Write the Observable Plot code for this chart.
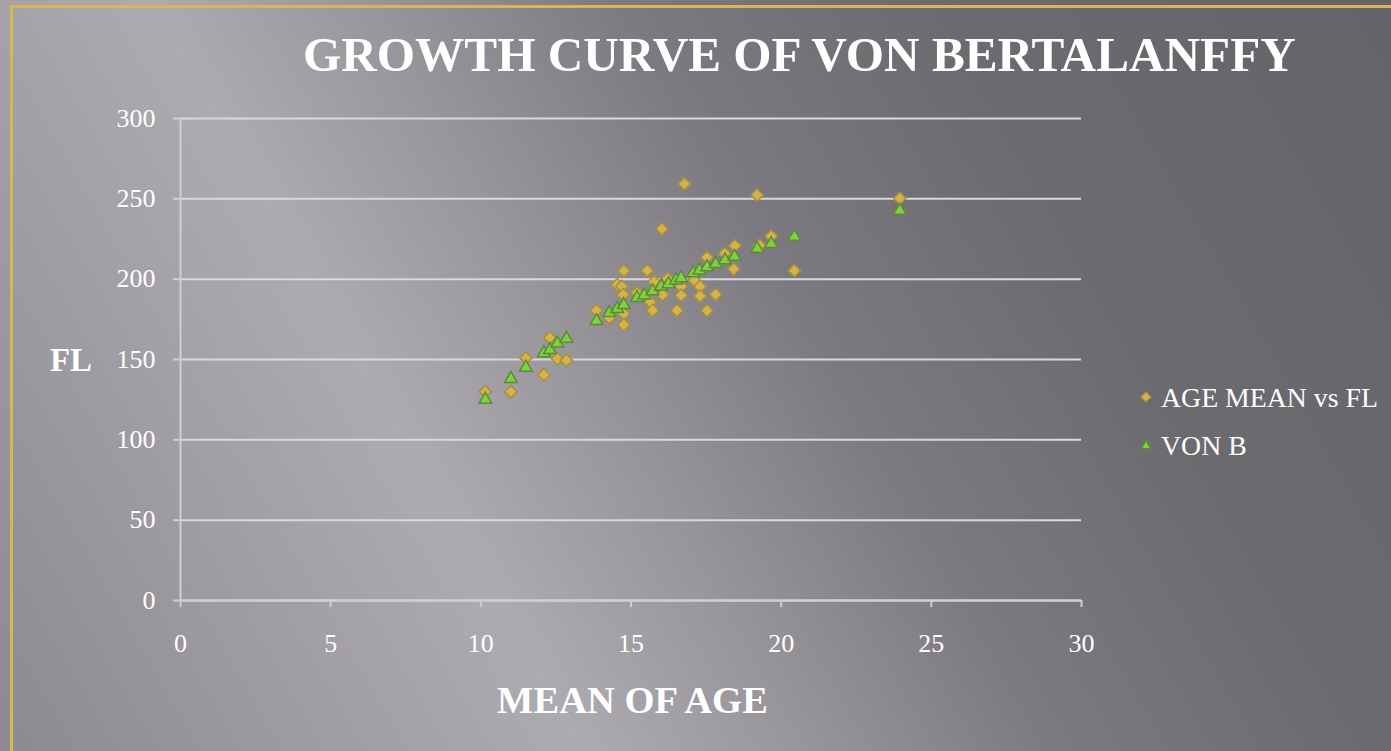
<!DOCTYPE html>
<html>
<head>
<meta charset="utf-8">
<script src="https://cdn.jsdelivr.net/npm/d3@7"></script>
<script src="https://cdn.jsdelivr.net/npm/@observablehq/plot@0.6"></script>
<style>
  html, body { margin: 0; padding: 0; }
  body {
    width: 1391px; height: 751px; overflow: hidden; position: relative;
    font-family: "Liberation Serif", "DejaVu Serif", serif;
    background: linear-gradient(60deg, #8c898f 0%, #a3a0a7 22%, #adaab0 32%, #98959b 44%, #7c7a80 58%, #6c6b70 74%, #646368 100%);
  }
  .frame {
    position: absolute; left: 10px; top: 5px; width: 1500px; height: 900px;
    border-left: 3px solid #d3b955; border-top: 3px solid #d3b955;
  }
  .txt { position: absolute; color: #ffffff; line-height: 1; white-space: nowrap; }
  .bold { font-weight: bold; }
  #chart { position: absolute; left: 0; top: 0; }
  .leg { position: absolute; color: #fff; font-size: 26px; line-height: 1; white-space: nowrap; }
</style>
</head>
<body>
<div class="frame"></div>
<div id="title" class="txt bold" style="left:303px; top:30px; font-size:48px;">GROWTH CURVE OF VON BERTALANFFY</div>
<div id="ylab" class="txt bold" style="left:50px; top:344px; font-size:33px;">FL</div>
<div id="xlab" class="txt bold" style="left:497px; top:681px; font-size:38px;">MEAN OF AGE</div>
<div id="chart"></div>
<script>
// Observed data: mean age vs fork length (FL)
const ageMean = [10.15, 11.0, 11.5, 12.1, 12.3, 12.55, 12.85, 13.85, 14.28, 14.54, 14.7, 14.76, 14.74, 14.76, 14.76, 15.2, 15.54, 15.64, 15.72, 15.77, 16.03, 16.05, 16.22, 16.53, 16.67, 16.67, 16.78, 17.1, 17.3, 17.3, 17.53, 17.53, 17.82, 18.12, 18.42, 18.46, 19.2, 19.28, 19.67, 20.44, 23.95];
const flObserved = [130, 130, 151, 140.5, 163.5, 150.5, 149.5, 180.5, 176, 196.5, 195.5, 205.3, 190.3, 178.5, 171.6, 191.5, 205.3, 185.7, 180.5, 198.5, 231.3, 190.3, 200.3, 180.5, 195.4, 190, 259.3, 199.5, 195.4, 189.5, 213.5, 180.5, 190.5, 216, 206.3, 220.8, 252.4, 221, 226.7, 205.3, 250.3];
// Von Bertalanffy fitted values
const vonBAge = [10.15, 11.0, 11.5, 12.1, 12.3, 12.55, 12.85, 13.85, 14.28, 14.54, 14.76, 15.2, 15.44, 15.72, 16.0, 16.25, 16.5, 16.67, 17.07, 17.28, 17.53, 17.82, 18.13, 18.45, 19.2, 19.67, 20.44, 23.95];
const vonBFl = [125, 138, 145, 154, 156, 160, 163, 174, 179, 181.5, 184, 188.4, 190, 192.5, 195.5, 197, 199.3, 200.7, 203.8, 205.5, 207.5, 209.5, 211.8, 214, 219, 222, 226.5, 242.7];
const xTicks = [0, 5, 10, 15, 20, 25, 30];
const yTicks = [0, 50, 100, 150, 200, 250, 300];
const seriesNames = ["AGE MEAN vs FL", "VON B"];

const observed = ageMean.map((a, i) => ({age: a, fl: flObserved[i]}));
const vonB = vonBAge.map((a, i) => ({age: a, fl: vonBFl[i]}));

const axisStroke = "#cfcfcf";
const plot = Plot.plot({
  width: 1100,
  height: 680,
  marginLeft: 180,
  marginRight: 19,
  marginTop: 118,
  marginBottom: 80,
  style: {background: "transparent", color: "#ffffff", fontFamily: "'Liberation Serif', serif", fontSize: "26px", overflow: "visible"},
  x: {domain: [0, 30], ticks: xTicks, label: null},
  y: {domain: [0, 300], ticks: yTicks, label: null},
  marks: [
    Plot.gridY(yTicks, {stroke: "#d9d9d9", strokeOpacity: 1, strokeWidth: 2}),
    Plot.ruleX([0], {stroke: axisStroke, strokeWidth: 2}),
    Plot.ruleY([0], {stroke: axisStroke, strokeWidth: 2}),
    Plot.axisX(xTicks, {tickSize: 7, tickPadding: 26, stroke: axisStroke, strokeWidth: 2, fill: "#ffffff", fontSize: 26, label: null}),
    Plot.axisY(yTicks, {tickSize: 7, tickPadding: 18, stroke: axisStroke, strokeWidth: 2, fill: "#ffffff", fontSize: 26, label: null}),
    Plot.dot(observed, {x: "age", y: "fl", symbol: "diamond2", r: 5.6, fill: "#d3b44c", stroke: "#a8903c", strokeWidth: 1.5}),
    Plot.dot(vonB, {x: "age", y: "fl", symbol: "triangle", r: 4.7, fill: "#7fd23a", stroke: "#5e8a3c", strokeWidth: 1.5})
  ]
});
document.getElementById("chart").appendChild(plot);

// Fit text widths to the reference
function fit(el, w) {
  const r = el.getBoundingClientRect();
  const fs = parseFloat(getComputedStyle(el).fontSize);
  el.style.fontSize = (fs * w / r.width) + "px";
}

// Legend
const legendItems = [
  {name: seriesNames[0], top: 384, width: 217, shape: "M0,-5L5,0L0,5L-5,0Z", fill: "#d3b44c", stroke: "#a8903c"},
  {name: seriesNames[1], top: 432, width: 84, shape: "M0,-4.5L4.5,3.5L-4.5,3.5Z", fill: "#7fd23a", stroke: "#5e8a3c"}
];
const legendFont = [];
legendItems.forEach(it => {
  const sw = document.createElementNS("http://www.w3.org/2000/svg", "svg");
  sw.setAttribute("width", 14); sw.setAttribute("height", 14);
  sw.style.position = "absolute"; sw.style.left = "1139px"; sw.style.top = (it.top + 6) + "px";
  const p = document.createElementNS("http://www.w3.org/2000/svg", "path");
  p.setAttribute("d", it.shape); p.setAttribute("transform", "translate(7,7)");
  p.setAttribute("fill", it.fill); p.setAttribute("stroke", it.stroke); p.setAttribute("stroke-width", 1.2);
  sw.appendChild(p);
  document.body.appendChild(sw);
  const t = document.createElement("div");
  t.className = "leg"; t.textContent = it.name;
  t.style.left = "1161px"; t.style.top = it.top + "px";
  document.body.appendChild(t);
  if (it.width > 100) fit(t, it.width);
  legendFont.push(t);
});
legendFont[1].style.fontSize = legendFont[0].style.fontSize;

fit(document.getElementById("title"), 993);
fit(document.getElementById("xlab"), 271);
fit(document.getElementById("ylab"), 42);
</script>
</body>
</html>
